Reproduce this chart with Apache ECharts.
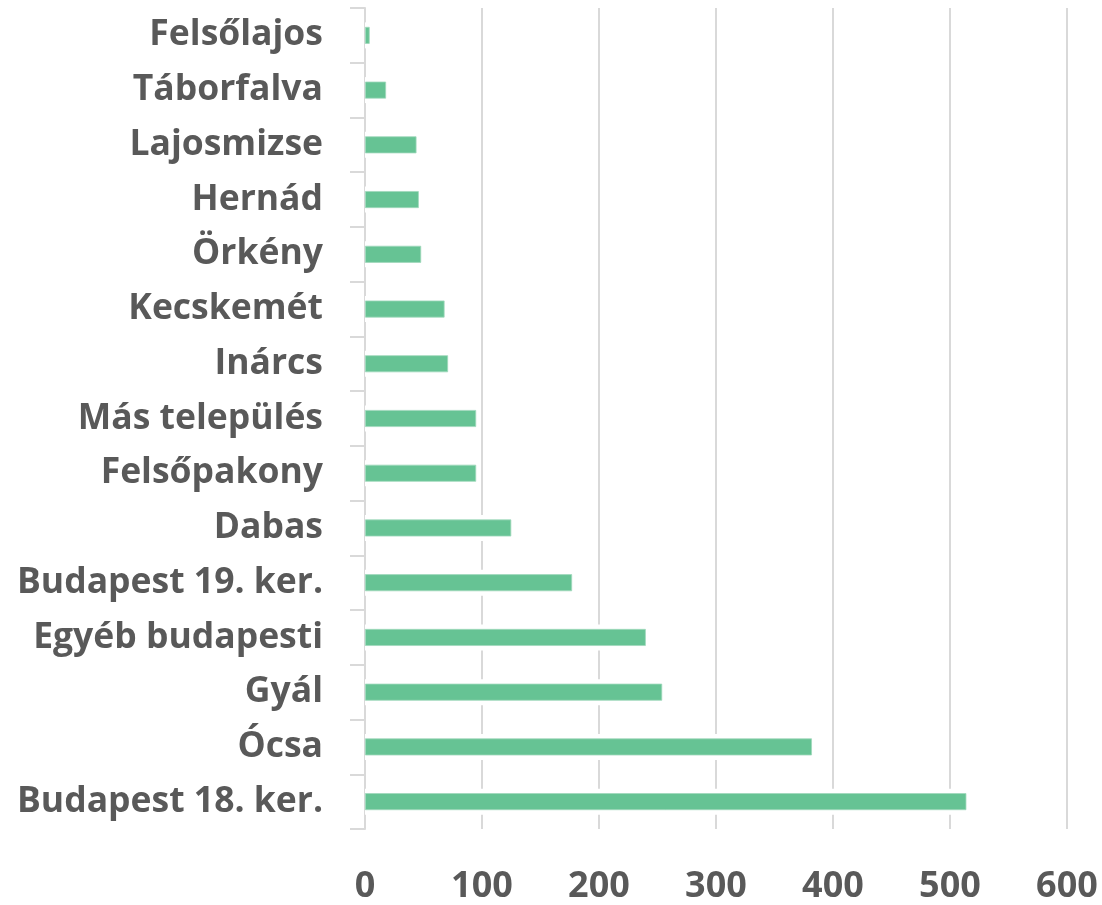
<!DOCTYPE html>
<html>
<head>
<meta charset="utf-8">
<script src="https://cdn.jsdelivr.net/npm/echarts@6/dist/echarts.min.js"></script>
<style>
html,body{margin:0;padding:0;background:#fff;}
#chart{width:1102px;height:905px;}
</style>
</head>
<body>
<div id="chart"></div>
<script>
// Categories listed top to bottom
const categories = ["Felsőlajos","Táborfalva","Lajosmizse","Hernád","Örkény","Kecskemét","Inárcs","Más település","Felsőpakony","Dabas","Budapest 19. ker.","Egyéb budapesti","Gyál","Ócsa","Budapest 18. ker."];
const values = [4, 18, 44, 46, 48, 68, 71, 95, 95, 125, 177, 240, 254, 382, 514];
const xTicks = [0, 100, 200, 300, 400, 500, 600];

const FONT = "'Open Sans', sans-serif";
const TXT = "#595959";
const GRID = "#d9d9d9";

const chart = echarts.init(document.getElementById('chart'), null, {renderer:'canvas'});
chart.setOption({
  animation: false,
  backgroundColor: '#ffffff',
  grid: {left: 365, right: 35, top: 8, bottom: 75, containLabel: false},
  xAxis: {
    type: 'value',
    min: xTicks[0], max: xTicks[xTicks.length-1], interval: 100,
    axisLine: {show: false},
    axisTick: {show: false},
    splitLine: {show: true, lineStyle: {color: GRID, width: 2}},
    axisLabel: {
      color: TXT, fontFamily: FONT, fontWeight: 'bold', fontSize: 36, margin: 40,
      formatter: v => xTicks.includes(v) ? String(v) : ''
    }
  },
  yAxis: [{
    type: 'category',
    data: categories,
    inverse: true,
    axisLine: {show: true, lineStyle: {color: GRID, width: 2}},
    axisTick: {show: true, length: 15, lineStyle: {color: GRID, width: 2}},
    axisLabel: {color: TXT, fontFamily: FONT, fontWeight: 'bold', fontSize: 35.5, margin: 42},
    splitLine: {show: false}
  }, {
    type: 'category',
    data: categories,
    inverse: true,
    show: false
  }],
  series: [{
    type: 'bar',
    yAxisIndex: 1,
    data: values,
    barWidth: 26,
    itemStyle: {color: '#ffffff'},
    silent: true,
    z: 1
  }, {
    type: 'bar',
    yAxisIndex: 0,
    data: values,
    barWidth: 17,
    itemStyle: {color: '#66c394', borderColor: '#9fd8bb', borderWidth: 0.8},
    z: 3
  }]
});
</script>
</body>
</html>
